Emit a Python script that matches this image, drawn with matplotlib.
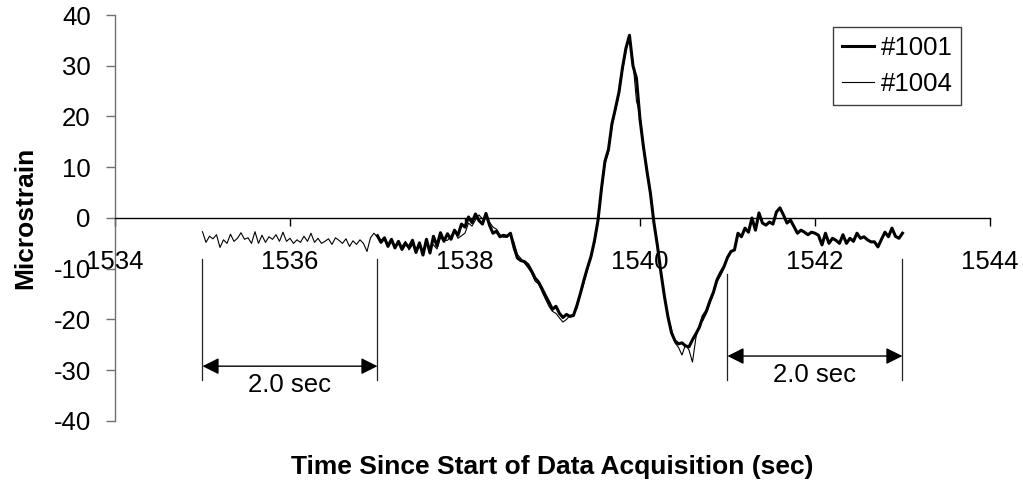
import matplotlib
matplotlib.use("Agg")
import matplotlib.pyplot as plt
import numpy as np

plt.rcParams['font.family'] = ['Liberation Sans', 'DejaVu Sans']
plt.rcParams['axes.unicode_minus'] = False

# sampling of the two gauges (s)
dt = 0.04
t0_1001 = 1537.0
t0_1004 = 1535.0

# gauge #1001 (thick), every 0.04 s from 1537.00
strain_1001 = np.array([
    -3.5, -4.8, -3.9, -5.6, -4.2, -5.9, -4.6, -6.2, -5.0, -5.8,
    -4.4, -6.8, -4.9, -7.3, -4.2, -6.9, -3.6, -5.5, -2.9, -4.6,
    -3.1, -4.2, -2.4, -3.4, -1.2, -1.8, 0.2, -0.9, 0.8, -0.5,
    -1.2, 0.9, -1.4, -3.0, -2.6, -3.7, -3.4, -3.6, -3.0, -5.8,
    -7.9, -8.4, -8.6, -9.2, -10.4, -11.8, -12.6, -13.9, -15.3, -16.6,
    -18.0, -17.4, -18.8, -19.6, -19.0, -19.4, -19.2, -17.2, -14.8, -12.2,
    -9.8, -7.6, -4.5, -0.5, 5.8, 11.2, 13.5, 18.6, 21.6, 24.8,
    29.6, 33.5, 36.0, 30.0, 27.5, 19.5, 14.0, 9.2, 4.8, -1.0,
    -5.5, -10.8, -15.5, -19.5, -22.6, -24.2, -24.8, -24.6, -25.2, -25.4,
    -24.0, -22.8, -21.5, -19.4, -18.3, -16.3, -14.6, -12.2, -10.8, -9.6,
    -7.8, -6.6, -6.3, -3.0, -3.7, -2.0, -2.8, 0.0, -2.4, 1.0,
    -1.0, -1.4, -0.8, -1.2, 1.2, 2.0, 0.6, -1.0, -0.4, -1.7,
    -3.0, -2.4, -2.8, -3.3, -2.8, -3.0, -3.4, -5.3, -3.0, -5.0,
    -4.0, -4.4, -5.0, -3.3, -5.0, -4.0, -4.6, -3.0, -4.0, -3.7,
    -4.3, -4.7, -4.7, -5.7, -4.2, -2.8, -3.7, -2.0, -3.6, -4.0,
    -3.0,
])

# gauge #1004 (thin), every 0.04 s from 1535.00
strain_1004 = np.array([
    -2.7, -4.8, -3.6, -4.1, -3.3, -5.8, -4.3, -5.0, -3.2, -4.6,
    -4.0, -2.9, -4.2, -3.9, -5.0, -2.7, -5.0, -3.4, -4.8, -3.7,
    -4.2, -3.3, -4.6, -2.8, -4.6, -4.0, -5.0, -4.3, -4.8, -3.6,
    -4.6, -3.0, -4.8, -4.0, -5.0, -4.6, -4.1, -5.2, -3.9, -4.4,
    -5.0, -4.1, -5.6, -4.5, -5.2, -4.3, -5.0, -6.6, -3.9, -3.0,
    -3.8, -4.3, -4.4, -5.2, -4.8, -5.4, -5.1, -5.6, -4.6, -6.3,
    -5.3, -5.9, -5.6, -6.4, -4.8, -6.0, -5.3, -6.1, -3.9, -4.4,
    -4.4, -3.6, -2.6, -4.0, -3.5, -3.0, -1.0, -1.6, -0.4, 0.6,
    -0.2, 0.4, -0.8, -1.8, -2.2, -3.3, -3.8, -3.8, -3.1, -4.8,
    -7.2, -8.0, -8.9, -9.8, -10.8, -12.4, -13.0, -14.5, -16.0, -17.4,
    -18.4, -18.8, -19.7, -20.5, -20.0, -19.2, -19.0, -17.8, -15.0, -12.8,
    -10.2, -8.0, -5.0, -1.0, 5.2, 10.6, 13.0, 18.0, 21.2, 24.4,
    29.0, 33.0, 35.5, 30.8, 23.0, 20.5, 14.4, 9.6, 5.2, -0.6,
    -5.0, -10.4, -15.2, -19.2, -22.0, -24.6, -25.5, -27.0, -25.0, -26.0,
    -28.4, -23.5, -21.0, -20.2, -18.8, -16.8, -15.0, -12.6, -11.4, -10.0,
    -7.5,
])

t_1001 = t0_1001 + dt * np.arange(len(strain_1001))
t_1004 = t0_1004 + dt * np.arange(len(strain_1004))

# 2.0 sec brackets: (start, end, top of left line, top of right line, arrow y, label y)
brackets = [
    (1535.0, 1537.0, -8.1, -8.1, -29.2, -33.0),
    (1541.0, 1543.0, -11.0, -8.1, -27.2, -31.0),
]
bracket_bottom = -31.9

fig = plt.figure(figsize=(10.23, 4.84), dpi=100)
ax = fig.add_axes([0.1124, 0.1302, 0.8553, 0.8388])

ax.plot(t_1001, strain_1001, color='black', lw=2.2, label='#1001')
ax.plot(t_1004, strain_1004, color='black', lw=0.8, label='#1004')

for x0, x1, top0, top1, ya, yt in brackets:
    ax.plot([x0, x0], [top0, bracket_bottom], color='#222222', lw=0.9)
    ax.plot([x1, x1], [top1, bracket_bottom], color='#222222', lw=0.9)
    ax.annotate('', xy=(x0, ya), xytext=(x1, ya),
                arrowprops=dict(arrowstyle='<|-|>,head_length=0.5,head_width=0.25',
                                color='black', lw=1.0, shrinkA=0, shrinkB=0,
                                mutation_scale=20))
    ax.text((x0 + x1) / 2, yt, '2.0 sec', ha='center', va='center', fontsize=18.5)

ax.set_xlim(1534, 1544)
ax.set_ylim(-40, 40)
ax.set_xticks(np.arange(1534, 1545, 2))
ax.set_yticks(np.arange(-40, 41, 10))

ax.spines['top'].set_visible(False)
ax.spines['right'].set_visible(False)
ax.spines['bottom'].set_position(('data', 0))
ax.spines['bottom'].set_color('black')
ax.spines['bottom'].set_linewidth(1.0)
ax.spines['left'].set_color('#707070')
ax.spines['left'].set_linewidth(1.0)

ax.tick_params(axis='x', direction='out', length=6, width=1, color='black',
               pad=17, labelsize=18.5)
ax.tick_params(axis='y', direction='out', length=6.5, width=1, color='#707070',
               pad=11, labelsize=18.5)

ax.set_xlabel('Time Since Start of Data Acquisition (sec)', fontsize=19,
              fontweight='bold', va='center')
ax.xaxis.set_label_coords(0.5, -0.113)
ax.set_ylabel('Microstrain', fontsize=19, fontweight='bold', va='center')
ax.yaxis.set_label_coords(-0.103, 0.5)

leg = ax.legend(loc='upper left', bbox_to_anchor=(0.8206, 0.970), borderaxespad=0,
                fontsize=18.5, frameon=True, fancybox=False, framealpha=1,
                edgecolor='#404040', handlelength=1.25, handletextpad=0.25,
                borderpad=0.35, labelspacing=0.45)
leg.get_frame().set_linewidth(1.0)

fig.savefig('out.png', dpi=100)
